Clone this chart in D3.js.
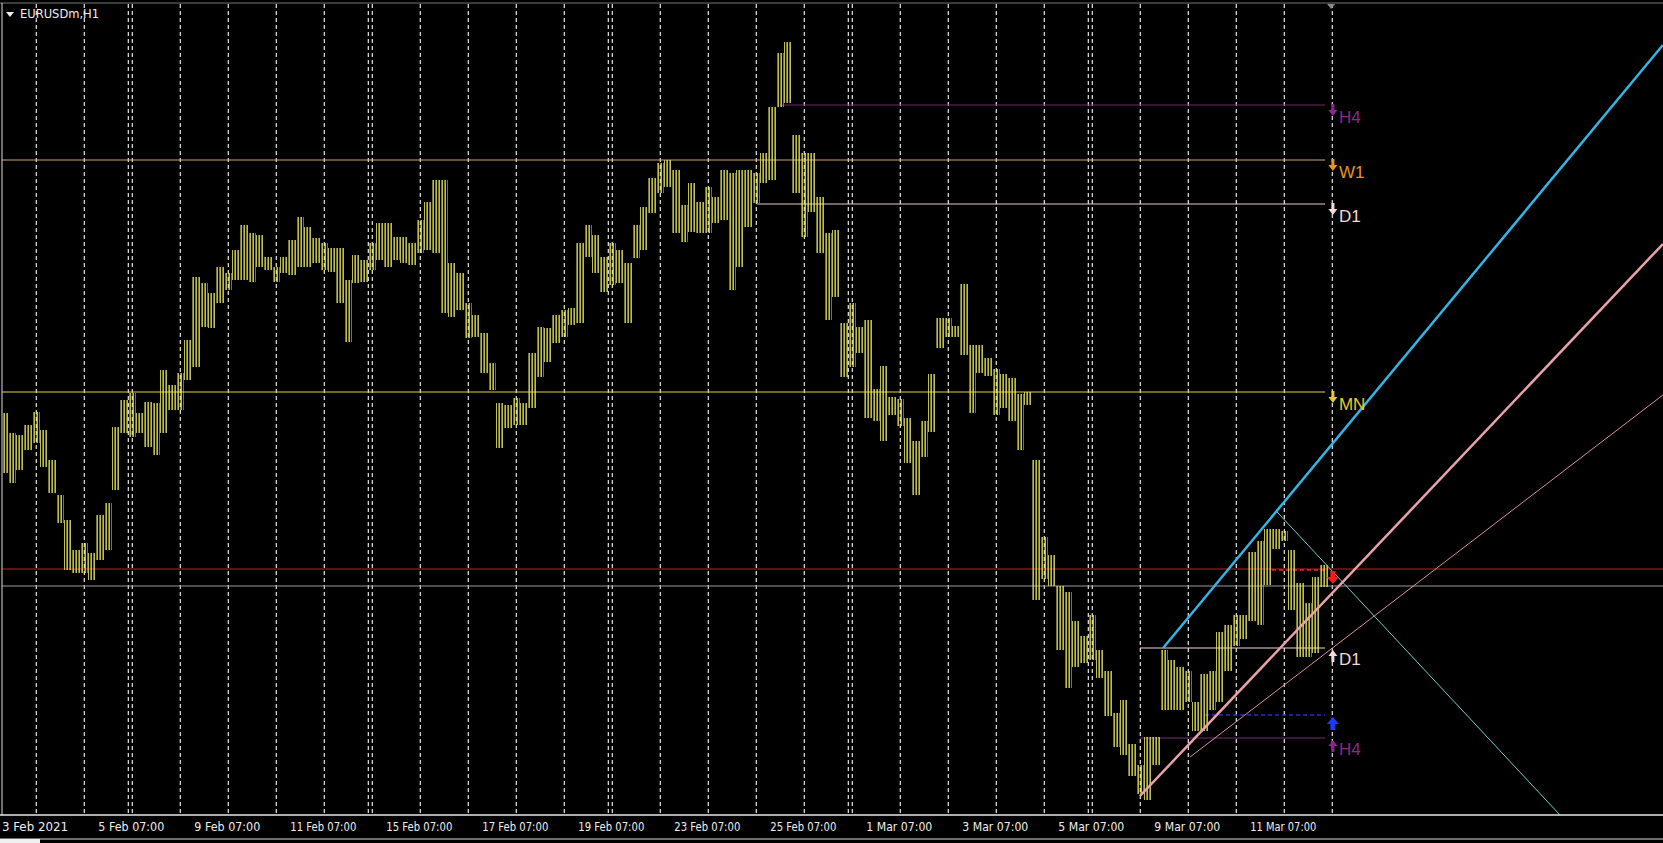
<!DOCTYPE html>
<html>
<head>
<meta charset="utf-8">
<script src="https://cdn.jsdelivr.net/npm/d3@7/dist/d3.min.js"></script>
<style>
  body { margin: 0; background: #000; overflow: hidden; }
  svg { display: block; }
</style>
</head>
<body>
<svg id="chart" width="1663" height="843"></svg>
<script>
// EURUSDm H1 - price bars sampled roughly every 2.7 hours (high / low)
const highs = [1.20935,1.20835,1.20825,1.20875,1.2094,1.2085,1.207,1.20525,1.204,1.2025,
  1.20285,1.20235,1.20425,1.20485,1.20865,1.21,1.21035,1.20935,1.2099,1.20985,
  1.2115,1.21075,1.21135,1.213,1.21615,1.21585,1.21535,1.21665,1.21635,1.2175,
  1.21875,1.21835,1.21825,1.21715,1.21665,1.21715,1.218,1.21915,1.21865,1.2181,
  1.21785,1.2176,1.2176,1.216,1.21725,1.217,1.21785,1.21885,1.21885,1.21815,
  1.21815,1.21785,1.219,1.2199,1.221,1.221,1.21685,1.21635,1.21485,1.21425,
  1.21335,1.21185,1.20985,1.20975,1.2101,1.20985,1.21235,1.21365,1.2136,1.21425,
  1.2145,1.2146,1.21785,1.21875,1.21825,1.21715,1.21785,1.2175,1.21685,1.21875,
  1.21965,1.2211,1.22185,1.222,1.2215,1.21975,1.22085,1.2199,1.22065,1.22015,
  1.2215,1.22135,1.2215,1.2215,1.22135,1.22235,1.22465,1.22735,1.2279,1.22325,
  1.22235,1.22235,1.22015,1.21835,1.2185,1.21385,1.21485,1.21365,1.2140,1.21055,
  1.2117,1.21015,1.21005,1.2091,1.20795,1.20895,1.2113,1.2141,1.2141,1.2137,
  1.2158,1.21275,1.21275,1.2121,1.21155,1.2113,1.2111,1.2103,1.2104,1.207,
  1.20315,1.20225,1.2007,1.2004,1.19895,1.1982,1.19925,1.1975,1.19645,1.19435,
  1.195,1.1928,1.19175,1.19315,1.19315,1.1975,1.197,1.19665,1.19645,1.1949,
  1.1963,1.19645,1.1984,1.19875,1.19925,1.19925,1.2024,1.20295,1.20355,1.20355,
  1.20345,1.2025,1.20085,1.19985,1.20115,1.20175]
const lows = [1.20635,1.20585,1.2065,1.2075,1.20785,1.20665,1.20535,1.20385,1.2015,1.20135,
  1.20135,1.201,1.202,1.2025,1.2055,1.20835,1.20815,1.20835,1.20765,1.20725,
  1.20835,1.2095,1.2095,1.211,1.21165,1.21365,1.2136,1.21485,1.2155,1.216,
  1.216,1.2159,1.21665,1.2165,1.2159,1.21635,1.21625,1.21665,1.21665,1.21685,
  1.2165,1.2164,1.21485,1.2129,1.21585,1.2159,1.2165,1.217,1.21665,1.217,
  1.21685,1.21675,1.21735,1.2175,1.21735,1.21435,1.21415,1.2145,1.2131,1.21315,
  1.21135,1.2105,1.2076,1.2086,1.20875,1.20875,1.2096,1.21115,1.2119,1.21285,
  1.21315,1.21375,1.21385,1.21715,1.21635,1.2154,1.21575,1.21585,1.21385,1.2171,
  1.2175,1.21935,1.22035,1.22065,1.21835,1.2179,1.2184,1.21835,1.21835,1.21885,
  1.219,1.2155,1.21665,1.21865,1.21985,1.22085,1.221,1.22465,1.22485,1.22035,
  1.21815,1.2194,1.21735,1.214,1.21515,1.21115,1.21165,1.21235,1.2091,1.20895,
  1.20795,1.20925,1.2087,1.20685,1.20525,1.20715,1.2084,1.2126,1.21315,1.21315,
  1.21225,1.20935,1.21135,1.2112,1.20925,1.2096,1.20895,1.2075,1.20975,1.2,
  1.20105,1.2007,1.1975,1.1956,1.19665,1.19685,1.197,1.1961,1.1942,1.19265,
  1.19225,1.1912,1.1903,1.19,1.19175,1.1945,1.1945,1.1945,1.1949,1.19345,
  1.19345,1.1945,1.1949,1.19645,1.1977,1.19805,1.19895,1.19875,1.20075,1.20255,
  1.20295,1.1995,1.19715,1.19715,1.19735,1.20065]

// time axis in hours from the first grid line
const sampleHours = 8 / 3
const firstSampleHour = -10.77
const gridHours = d3.range(0, 433, 16)
const weekHours = [30.67, 110.67, 190.67, 270.67, 350.67]
const tickHours = [-12.1, 20, 52, 84, 116, 148, 180, 212, 244, 276, 308, 340, 372, 404]
const tickLabels = ['3 Feb 2021','5 Feb 07:00','9 Feb 07:00','11 Feb 07:00','15 Feb 07:00',
  '17 Feb 07:00','19 Feb 07:00','23 Feb 07:00','25 Feb 07:00','1 Mar 07:00',
  '3 Mar 07:00','5 Mar 07:00','9 Mar 07:00','11 Mar 07:00']

// horizontal levels: [price, startHour, endHour or null (full width), colour, dashed]
const levels = [
  [1.22475, 247.9, 429.6, '#6e2a6e', false],
  [1.2220, -13, 429.6, '#d7a56a', false],
  [1.2198, 240.2, 429.6, '#e6cccc', false],
  [1.2104, -13, 429.6, '#e6cf40', false],
  [1.20155, -13, null, '#c41e1e', false],
  [1.2007, -13, null, '#9a9a9a', false],
  [1.1976, 367.9, 429.6, '#f0d6d6', false],
  [1.19425, 389.6, 429.6, '#2830c8', true],
  [1.1931, 367.9, 429.6, '#7a2c7a', false],
  [1.2015, 411.9, 429.6, '#ff2020', true]
]
// trend lines: [h1, p1, h2, p2, colour, width]
const trends = [
  [375.6, 1.1976, 542.2, 1.22775, '#33b5e5', 2.5],
  [367.9, 1.1902, 542.2, 1.2178, '#e8a2ab', 2.5],
  [384.6, 1.19215, 542.2, 1.21025, '#d8929c', 1],
  [413.6, 1.2044, 507.9, 1.18925, '#76cccc', 1]
]
// level tags at the right
const tags = [
  ['H4', 1.22475, '#8a2a8a', 'down'],
  ['W1', 1.2220, '#e8961e', 'down'],
  ['D1', 1.2198, '#f2dada', 'down'],
  ['MN', 1.2104, '#e8c82a', 'down'],
  ['D1', 1.1976, '#f2dada', 'up'],
  ['H4', 1.1931, '#8a2a8a', 'up']
]

const svg = d3.select('#chart')
const width = 1663
const plotBottom = 815

const x = d3.scaleLinear().domain([0, 16]).range([36.3, 84.3])
const y = d3.scaleLinear().domain([1.2300, 1.18925]).range([0, plotBottom])

svg.append('rect').attr('width', width).attr('height', 843).attr('fill', '#000')

const defs = svg.append('defs')
const pat = defs.append('pattern').attr('id', 'bars')
  .attr('patternUnits', 'userSpaceOnUse').attr('width', 3).attr('height', 10)
pat.append('rect').attr('x', 0.5).attr('width', 1.3).attr('height', 10).attr('fill', '#eded62')
defs.append('clipPath').attr('id', 'plot')
  .append('rect').attr('x', 2).attr('y', 4).attr('width', width - 2).attr('height', plotBottom - 4)

const g = svg.append('g').attr('clip-path', 'url(#plot)')

// grid
g.selectAll('.grid').data(gridHours.concat(weekHours)).join('line')
  .attr('x1', d => x(d)).attr('x2', d => x(d))
  .attr('y1', 4).attr('y2', plotBottom)
  .attr('stroke', '#e8e8e8').attr('stroke-width', 1.2).attr('stroke-dasharray', '4,3')

// levels
g.selectAll('.lvl').data(levels).join('line')
  .attr('x1', d => x(d[1])).attr('x2', d => d[2] === null ? width : x(d[2]))
  .attr('y1', d => y(d[0])).attr('y2', d => y(d[0]))
  .attr('stroke', d => d[3]).attr('stroke-width', d => d[4] ? 1.5 : 1.2)
  .attr('stroke-dasharray', d => d[4] ? '4,3' : null)

// price bars
const bars = highs.map((h, i) => ({ t: firstSampleHour + i * sampleHours, h, l: lows[i] }))
g.selectAll('.bar').data(bars).join('rect')
  .attr('x', d => x(d.t) - x(sampleHours / 2) + x(0))
  .attr('width', x(sampleHours) - x(0))
  .attr('y', d => y(d.h))
  .attr('height', d => y(d.l) - y(d.h))
  .attr('fill', 'url(#bars)')

// trend lines
g.selectAll('.trend').data(trends).join('line')
  .attr('x1', d => x(d[0])).attr('y1', d => y(d[1]))
  .attr('x2', d => x(d[2])).attr('y2', d => y(d[3]))
  .attr('stroke', d => d[4]).attr('stroke-width', d => d[5])

// tags
const tagX = x(432.2)
tags.forEach(([label, p, c, dir]) => {
  const ty = y(p) + (dir === 'down' ? 11 : 10)
  const arrow = dir === 'down'
    ? `M${tagX - 1.5},${ty - 12} h3 v6 h3 l-4.5,6 l-4.5,-6 h3 z`
    : `M${tagX - 1.5},${ty + 4} h3 v-6 h3 l-4.5,-6 l-4.5,6 h3 z`
  svg.append('path').attr('d', arrow).attr('fill', c)
  svg.append('text').attr('x', tagX + 6).attr('y', ty + 7)
    .attr('fill', c).attr('font-family', 'Arial, Liberation Sans, sans-serif')
    .attr('font-size', 17).text(label)
})
// blue up arrow and red down arrow
svg.append('path')
  .attr('d', `M${tagX},${y(1.19425) + 2} l-6,7 h3.5 v6 h5 v-6 h3.5 z`).attr('fill', '#1a3cff')
svg.append('path')
  .attr('d', `M${tagX},${y(1.2015) + 14} l-6,-7 h3.5 v-6 h5 v6 h3.5 z`).attr('fill', '#ff1a1a')

// frame
svg.append('line').attr('x1', 0).attr('x2', width).attr('y1', 3).attr('y2', 3).attr('stroke', '#777')
svg.append('line').attr('x1', 2).attr('x2', 2).attr('y1', 3).attr('y2', plotBottom).attr('stroke', '#ddd')
svg.append('line').attr('x1', 0).attr('x2', width).attr('y1', plotBottom).attr('y2', plotBottom)
  .attr('stroke', '#e8e8e8').attr('stroke-width', 1.5)
svg.append('line').attr('x1', 0).attr('x2', width).attr('y1', 839).attr('y2', 839).attr('stroke', '#ddd')
svg.append('rect').attr('x', 0).attr('y', 839).attr('width', 40).attr('height', 5).attr('fill', '#f0f0f0')
svg.append('path').attr('d', `M${x(431.6) - 4},4 h8 l-4,5 z`).attr('fill', '#888')

// time labels
svg.selectAll('.tick').data(tickHours).join('text')
  .attr('x', d => x(d) + 2).attr('y', 831)
  .attr('fill', '#eee').attr('font-family', 'DejaVu Sans Condensed, Liberation Sans Narrow, sans-serif')
  .attr('font-size', 12).attr('textLength', 66).attr('lengthAdjust', 'spacingAndGlyphs')
  .text((d, i) => tickLabels[i])

// title
svg.append('path').attr('d', 'M6,12 h8 l-4,5 z').attr('fill', '#eee')
svg.append('text').attr('x', 20).attr('y', 18).attr('fill', '#eee')
  .attr('font-family', 'DejaVu Sans, sans-serif').attr('font-size', 11.5).text('EURUSDm,H1')
</script>
</body>
</html>
